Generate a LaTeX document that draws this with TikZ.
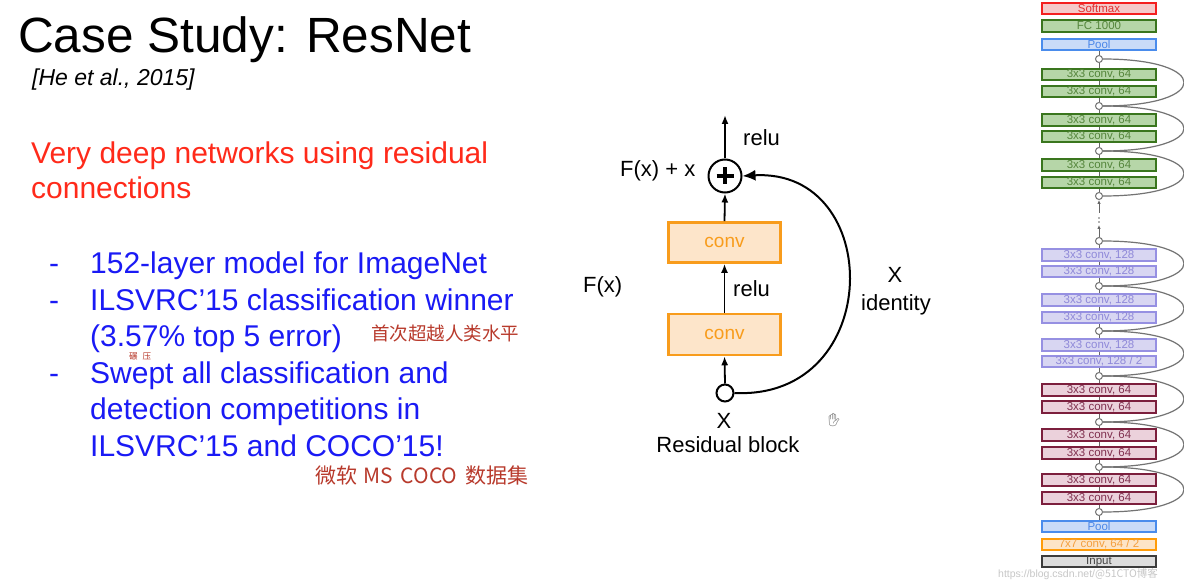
\documentclass[tikz,border=0pt]{standalone}
\usepackage{fontspec}
\setmainfont{Liberation Sans}
\newfontfamily\cjk{Noto Sans CJK SC}
\newfontfamily\emo{Noto Emoji}
\usetikzlibrary{arrows.meta,calc}
\definecolor{hred}{HTML}{FF2A1A}
\definecolor{hblue}{HTML}{1A1AF5}
\definecolor{hand}{HTML}{B83A2C}
\definecolor{cvborder}{HTML}{F89C1C}
\definecolor{cvfill}{HTML}{FDE5CA}
\definecolor{gB}{HTML}{3A761E}\definecolor{gF}{HTML}{B6D6A8}\definecolor{gT}{HTML}{55863C}
\definecolor{pB}{HTML}{9690E2}\definecolor{pF}{HTML}{D8D6F2}\definecolor{pT}{HTML}{8F89D9}
\definecolor{mB}{HTML}{7C1F3D}\definecolor{mF}{HTML}{EBD1DB}\definecolor{mT}{HTML}{80304F}
\definecolor{bB}{HTML}{4A8CEC}\definecolor{bF}{HTML}{C9DBF8}\definecolor{bT}{HTML}{4A86E8}
\definecolor{oB}{HTML}{FF9C0A}\definecolor{oF}{HTML}{FDE4C6}\definecolor{oT}{HTML}{F4A040}
\definecolor{rB}{HTML}{F42020}\definecolor{rF}{HTML}{F5CACA}\definecolor{rT}{HTML}{E03030}
\definecolor{iB}{HTML}{3C3C3C}\definecolor{iF}{HTML}{DCDCDC}\definecolor{iT}{HTML}{444444}
\begin{document}
\begin{tikzpicture}[x=1pt,y=-1pt,
  txt/.style={anchor=base west,inner sep=0pt},
  arr/.style={line width=1.8pt,-{Latex[length=9pt,width=7pt]}},
  bigarr/.style={line width=2pt,-{Latex[length=13pt,width=11pt]}},
  convbox/.style={draw=cvborder,fill=cvfill,line width=2.6pt,minimum width=112pt,minimum height=40pt,inner sep=0pt,text=cvborder,font=\fontsize{19}{20}\selectfont},
  mb/.style={rectangle,line width=2.2pt,minimum width=114pt,minimum height=11.5pt,inner sep=0pt,font=\fontsize{11.5}{12}\selectfont},
  gbox/.style={mb,draw=gB,fill=gF,text=gT},
  pbox/.style={mb,draw=pB,fill=pF,text=pT},
  mbox/.style={mb,draw=mB,fill=mF,text=mT},
  jn/.style={circle,draw=black!55,fill=white,line width=1pt,minimum size=7pt,inner sep=0pt},
  skip/.style={draw=black!55,line width=1.2pt},
  stub/.style={draw=black!60,line width=1pt}
]
\useasboundingbox (0,0) rectangle (1184,580);
\fill[white] (0,0) rectangle (1184,580);

% ---------- left text ----------
\node[txt,font=\fontsize{49.5}{60}\selectfont] (title) at (18,53) {Case Study: ResNet};
\node[txt,font=\fontsize{23}{28}\itshape] (cite) at (32,86) {[He et al., 2015]};
\node[txt,text=hred,font=\fontsize{30}{36}\selectfont] (r1) at (31,164) {Very deep networks using residual};
\node[txt,text=hred,font=\fontsize{30}{36}\selectfont] (r2) at (31,199) {connections};
\begin{scope}[every node/.style={txt,text=hblue,font=\fontsize{30}{36}\selectfont}]
\node (d1) at (49,273) {-};
\node (b1) at (90,273) {152-layer model for ImageNet};
\node (d2) at (49,310) {-};
\node (b2) at (90,310) {ILSVRC’15 classification winner};
\node (b3) at (90,346) {(3.57\% top 5 error)};
\node (d4) at (49,383) {-};
\node (b4) at (90,383) {Swept all classification and};
\node (b5) at (90,419) {detection competitions in};
\node (b6) at (90,456) {ILSVRC’15 and COCO’15!};
\end{scope}
% handwritten notes
\node[txt,text=hand,font=\cjk\fontsize{18.5}{20}\selectfont] (h1) at (371,341) {首次超越人类水平};
\node[txt,text=hand,font=\cjk\fontsize{8.5}{10}\selectfont] (h2) at (129,359.8) {碾\hspace{5pt}压};
\node[txt,text=hand,font=\cjk\fontsize{21}{24}\selectfont] (h3) at (315,483) {微软\hspace{6pt}MS\hspace{8pt}COCO\hspace{8pt}数据集};

% ---------- residual block ----------
\node[circle,draw,line width=2pt,minimum size=33pt,inner sep=0pt] (plus) at (725,176) {};
\draw[line width=3.6pt] ($(plus.center)+(-8.5,0)$) -- ($(plus.center)+(8.5,0)$);
\draw[line width=3.6pt] ($(plus.center)+(0,-8.5)$) -- ($(plus.center)+(0,8.5)$);
\node[convbox] (conv2) at (724.5,242.5) {conv};
\node[convbox,minimum height=41pt] (conv1) at (724.5,334.5) {conv};
\node[circle,draw,line width=2pt,minimum size=17pt,inner sep=0pt,fill=white] (xin) at (725,393) {};
\coordinate (out) at (725,115);
\draw[arr] (plus.north) -- (out);
\draw[arr] (conv2.north) -- (plus.south);
\draw[arr] (conv1.north) -- (conv2.south);
\draw[arr] (xin.north) -- (conv1.south);
\draw[bigarr] (xin.east) .. controls (885,400) and (885,168) .. (plus.east);
\begin{scope}[every node/.style={inner sep=0pt,font=\fontsize{22}{26}\selectfont}]
\node[anchor=base west] (relu1) at (743,146) {relu};
\node[anchor=base west] (fxx) at (620,177) {F(x) + x};
\node[anchor=base west] (relu2) at (733,297) {relu};
\node[anchor=base west] (fx) at (583,293) {F(x)};
\node[anchor=base] (xr) at (895,283) {X};
\node[anchor=base] (idt) at (896,310) {identity};
\node[anchor=base] (xb) at (724,428) {X};
\node[anchor=base] (rb) at (728,452) {Residual block};
\end{scope}
\node[text=black!60,font=\emo\fontsize{13}{14}\selectfont,inner sep=0pt] (cursor) at (834,420) {✋};

% ---------- mini ResNet ----------
\node[mb,draw=rB,fill=rF,text=rT] (sm) at (1099,8.5) {Softmax};
\node[mb,draw=gB,fill=gF,text=gT] (fc) at (1099,26) {FC 1000};
\node[mb,draw=bB,fill=bF,text=bT] (pl1) at (1099,44.5) {Pool};
\node[jn] (c0) at (1099,59) {};
\node[gbox] (g1) at (1099,74.5) {3x3 conv, 64};
\node[gbox] (g2) at (1099,91.5) {3x3 conv, 64};
\node[jn] (c1) at (1099,106) {};
\node[gbox] (g3) at (1099,120) {3x3 conv, 64};
\node[gbox] (g4) at (1099,136.5) {3x3 conv, 64};
\node[jn] (c2) at (1099,151) {};
\node[gbox] (g5) at (1099,165) {3x3 conv, 64};
\node[gbox] (g6) at (1099,182.5) {3x3 conv, 64};
\node[jn] (c3) at (1099,196) {};
\node[jn] (c4) at (1099,241) {};
\node[pbox] (p1) at (1099,255) {3x3 conv, 128};
\node[pbox] (p2) at (1099,271.5) {3x3 conv, 128};
\node[jn] (c5) at (1099,286) {};
\node[pbox] (p3) at (1099,300) {3x3 conv, 128};
\node[pbox] (p4) at (1099,317.5) {3x3 conv, 128};
\node[jn] (c6) at (1099,331) {};
\node[pbox] (p5) at (1099,345) {3x3 conv, 128};
\node[pbox] (p6) at (1099,361.5) {3x3 conv, 128 / 2};
\node[jn] (c7) at (1099,376) {};
\node[mbox] (m1) at (1099,390) {3x3 conv, 64};
\node[mbox] (m2) at (1099,407) {3x3 conv, 64};
\node[jn] (c8) at (1099,422) {};
\node[mbox] (m3) at (1099,435) {3x3 conv, 64};
\node[mbox] (m4) at (1099,453) {3x3 conv, 64};
\node[jn] (c9) at (1099,467) {};
\node[mbox] (m5) at (1099,480) {3x3 conv, 64};
\node[mbox] (m6) at (1099,498) {3x3 conv, 64};
\node[jn] (c10) at (1099,512) {};
\node[mb,draw=bB,fill=bF,text=bT] (pl2) at (1099,526.5) {Pool};
\node[mb,draw=oB,fill=oF,text=oT] (c7x7) at (1099,544.5) {7x7 conv, 64 / 2};
\node[mb,draw=iB,fill=iF,text=iT] (inp) at (1099,561.5) {Input};

% stubs
\foreach \a/\b in {c0/pl1,g1/c0,g2/g1,c1/g2,g3/c1,g4/g3,c2/g4,g5/c2,g6/g5,c3/g6,
  p1/c4,p2/p1,c5/p2,p3/c5,p4/p3,c6/p4,p5/c6,p6/p5,c7/p6,
  m1/c7,m2/m1,c8/m2,m3/c8,m4/m3,c9/m4,m5/c9,m6/m5,c10/m6,pl2/c10}
  \draw[stub] (\a.north) -- (\b.south);
\draw[stub,-{Latex[length=4pt,width=3.5pt]}] (c4.north) -- ++(0,-12);
\coordinate (dtop) at (1099,213);
\draw[stub,-{Latex[length=4pt,width=3.5pt]}] (dtop) -- (c3.south);
\fill[black!60] (1099,218) circle (0.9pt) (1099,222) circle (0.9pt);
% skip arcs
\foreach \a/\b in {c0/c1,c1/c2,c2/c3,c4/c5,c5/c6,c6/c7,c7/c8,c8/c9,c9/c10}
  \draw[skip] (\a.east) .. controls ($(\a)+(112,0)$) and ($(\b)+(112,0)$) .. (\b.east);
% watermark
\node[txt,text=black!22,font=\fontsize{10.5}{12}\selectfont] (wm) at (998,577) {https://blog.csdn.net/{\cjk @51CTO博客}};
\end{tikzpicture}
\end{document}
